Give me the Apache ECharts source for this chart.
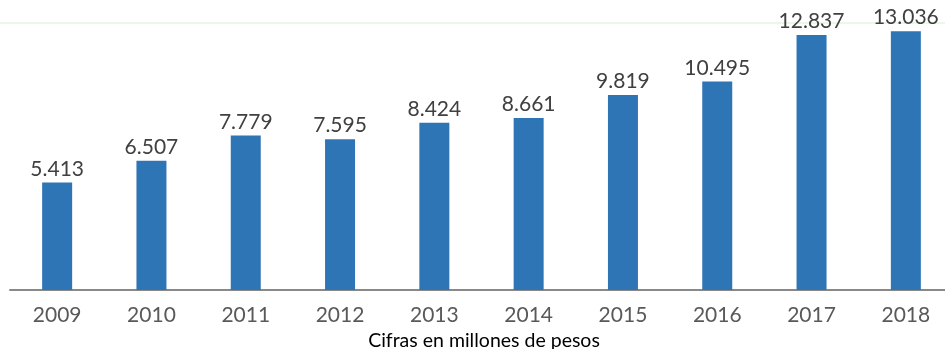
<!DOCTYPE html>
<html><head><meta charset="utf-8">
<script src="https://cdn.jsdelivr.net/npm/echarts@6/dist/echarts.min.js"></script>
<style>html,body{margin:0;padding:0;background:#fff}#c{width:945px;height:349px}</style>
</head><body><div id="c"></div>
<script>
const years = ['2009','2010','2011','2012','2013','2014','2015','2016','2017','2018'];
const values = [5.413, 6.507, 7.779, 7.595, 8.424, 8.661, 9.819, 10.495, 12.837, 13.036];
const footnote = 'Cifras en millones de pesos';
const fmt = v => v.toFixed(3);
const chart = echarts.init(document.getElementById('c'), null, {renderer:'canvas'});
chart.setOption({
  animation:false,
  grid:{left:10, width:943, top:12, bottom:59, containLabel:false, outerBoundsMode:'none'},
  xAxis:{type:'category', data:years,
    axisLine:{lineStyle:{color:'#898989', width:2}},
    axisTick:{show:false},
    axisLabel:{color:'#595959', fontSize:21, fontFamily:'Lato', margin:15}},
  yAxis:{type:'value', min:0, max:14, show:false, splitLine:{show:false}},
  series:[{type:'bar', data:values, barWidth:30, itemStyle:{color:'#2E75B6'},
    label:{show:true, position:'top', distance:3, color:'#404040', fontSize:21, fontFamily:'Lato',
      formatter:p=>fmt(p.value)}}],
  graphic:[
    {type:'line', shape:{x1:0,y1:23,x2:945,y2:23}, style:{stroke:'#EAF8EA', lineWidth:2}, z:-1},
    {type:'text', x:484, y:341, style:{text:footnote, fill:'#000', fontSize:19.5, fontFamily:'Lato', align:'center', verticalAlign:'middle'}}
  ]
});
</script></body></html>
